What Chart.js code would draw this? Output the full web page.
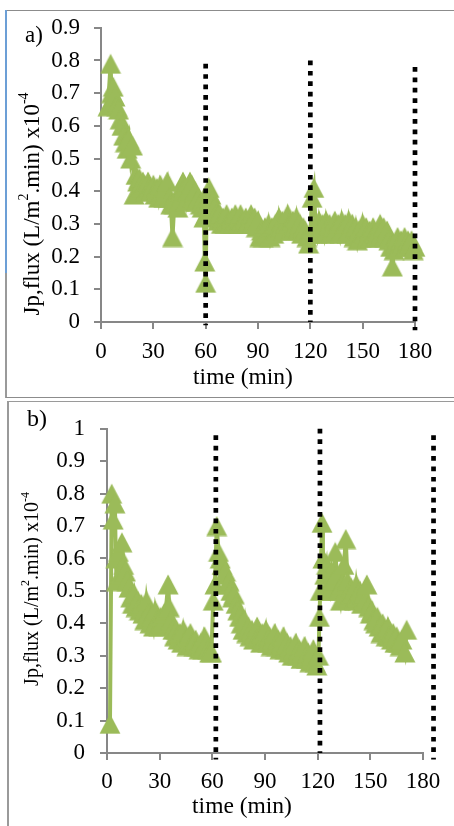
<!DOCTYPE html>
<html><head><meta charset="utf-8">
<script src="https://cdn.jsdelivr.net/npm/chart.js@4.4.1/dist/chart.umd.min.js"></script>
<style>
html,body{margin:0;padding:0;background:#fff;}
#wrap{position:relative;width:454px;height:826px;overflow:hidden;background:#fff;}
canvas{position:absolute;left:0;}
.ln{position:absolute;z-index:2;}
</style></head><body>
<div id="wrap">
<canvas id="ca" width="454" height="398" style="top:0px"></canvas>
<canvas id="cb" width="454" height="426" style="top:400px"></canvas>
<div class="ln" style="left:6px;top:10px;width:448px;height:1px;background:#8c8c8c"></div>
<div class="ln" style="left:5px;top:10px;width:2px;height:263px;background:#6c9fd6"></div>
<div class="ln" style="left:5px;top:273px;width:2px;height:125px;background:#9a9a9a"></div>
<div class="ln" style="left:6px;top:397px;width:448px;height:1px;background:#8c8c8c"></div>
<div class="ln" style="left:7px;top:401px;width:447px;height:1px;background:#9a9a9a"></div>
<div class="ln" style="left:7px;top:401px;width:2px;height:425px;background:#9a9a9a"></div>
</div>
<script>
// ---------- data ----------
const timeA = [4,5.5,6,7,8,9,10,11,12,13,14,15,16,17,18,19,20,21,22,23,24,25,26,27,28,29,30,31,32,33,34,35,36,37,38,39,40,41,42,43,44,45,46,47,48,49,50,51,52,53,54,55,56,57,58,59,59.5,60,60.5,61,62,63,64,65,66,67,68,69,70,71,72,73,74,75,76,77,78,79,80,81,82,83,84,85,86,87,88,89,90,91,92,93,94,95,96,97,98,99,100,101,102,103,104,105,106,107,108,109,110,111,112,113,114,115,116,117,118,119,120,121,122,123,124,125,126,127,128,129,130,131,132,133,134,135,136,137,138,139,140,141,142,143,144,145,146,147,148,149,150,151,152,153,154,155,156,157,158,159,160,161,162,163,164,165,166,167,168,169,170,171,172,173,174,175,176,177,178,179,180];
const fluxA = [0.66,0.79,0.70,0.72,0.69,0.66,0.65,0.62,0.60,0.57,0.55,0.53,0.56,0.50,0.54,0.39,0.45,0.43,0.44,0.41,0.43,0.42,0.40,0.43,0.41,0.40,0.42,0.39,0.41,0.38,0.42,0.40,0.38,0.41,0.43,0.38,0.36,0.26,0.36,0.38,0.35,0.37,0.40,0.43,0.41,0.37,0.40,0.43,0.42,0.38,0.40,0.37,0.38,0.36,0.35,0.32,0.185,0.12,0.33,0.36,0.41,0.39,0.37,0.35,0.33,0.31,0.33,0.30,0.32,0.30,0.33,0.31,0.30,0.32,0.30,0.33,0.31,0.30,0.33,0.31,0.30,0.32,0.30,0.31,0.33,0.30,0.32,0.29,0.31,0.26,0.28,0.26,0.29,0.27,0.30,0.26,0.29,0.27,0.30,0.28,0.32,0.29,0.31,0.28,0.30,0.33,0.30,0.28,0.31,0.29,0.32,0.28,0.30,0.27,0.29,0.28,0.26,0.24,0.27,0.38,0.41,0.30,0.27,0.31,0.28,0.30,0.27,0.31,0.28,0.30,0.27,0.29,0.31,0.28,0.30,0.27,0.31,0.28,0.30,0.27,0.31,0.28,0.30,0.26,0.29,0.25,0.28,0.26,0.30,0.27,0.29,0.26,0.28,0.26,0.29,0.27,0.26,0.28,0.30,0.27,0.29,0.26,0.28,0.25,0.23,0.17,0.22,0.24,0.26,0.23,0.25,0.24,0.26,0.23,0.25,0.24,0.25,0.22,0.23];

const timeB = [1.7,2.7,3.5,4.5,5,5.5,6.5,7.5,8.5,9.5,10.5,11.5,12.5,13.5,14.5,15.5,16.5,17.5,18.5,19.5,20.5,21.5,22.5,23.5,24.5,25.5,26.5,27.5,28.5,29.5,30.5,31.5,32.5,33.5,34.8,35.5,36.5,37.5,38.5,39.5,40.5,41.5,42.5,43.5,44.5,45.5,46.5,47.5,48.5,49.5,50.5,51.5,52.5,53.5,54.5,55.5,56.5,57.5,58.5,59.5,
  60.5,61.5,62.5,63.5,64.5,65.5,66.5,67.5,68.5,69.5,70.5,71.5,72.5,73.5,74.5,75.5,76.5,77.5,78.5,79.5,80.5,81.5,82.5,83.5,84.5,85.5,86.5,87.5,88.5,89.5,90.5,91.5,92.5,93.5,94.5,95.5,96.5,97.5,98.5,99.5,100.5,101.5,102.5,103.5,104.5,105.5,106.5,107.5,108.5,109.5,110.5,111.5,112.5,113.5,114.5,115.5,116.5,117.5,118.5,119.5,120.5,
  121,121.5,122.5,123,124,125,126,127,128,129,130,131,132,133,134,135,136,137,138,139,140,141,142,143,144,145,146,147,148,149,150,151,152,153,154,155,156,157,158,159,160,161,162,163,164,165,166,167,168,169.7,170.7];
const fluxB = [0.09,0.80,0.72,0.77,0.60,0.53,0.62,0.55,0.65,0.58,0.56,0.53,0.51,0.48,0.46,0.49,0.45,0.47,0.44,0.46,0.43,0.41,0.47,0.43,0.40,0.42,0.39,0.44,0.41,0.39,0.42,0.40,0.43,0.44,0.52,0.45,0.41,0.38,0.36,0.38,0.35,0.37,0.34,0.38,0.35,0.33,0.36,0.37,0.34,0.33,0.35,0.33,0.32,0.34,0.32,0.36,0.34,0.32,0.31,0.31,
  0.47,0.52,0.70,0.62,0.60,0.58,0.55,0.56,0.52,0.53,0.50,0.48,0.49,0.46,0.44,0.42,0.40,0.38,0.41,0.37,0.39,0.36,0.38,0.35,0.37,0.39,0.36,0.34,0.37,0.35,0.38,0.34,0.36,0.33,0.35,0.37,0.33,0.35,0.32,0.34,0.36,0.32,0.34,0.31,0.33,0.30,0.32,0.34,0.30,0.32,0.29,0.31,0.33,0.29,0.31,0.28,0.30,0.32,0.28,0.27,0.30,
  0.42,0.50,0.71,0.60,0.55,0.58,0.52,0.50,0.56,0.53,0.62,0.55,0.50,0.47,0.52,0.58,0.66,0.53,0.48,0.51,0.49,0.47,0.52,0.48,0.50,0.46,0.49,0.47,0.52,0.45,0.43,0.44,0.41,0.40,0.42,0.39,0.37,0.40,0.38,0.36,0.39,0.36,0.35,0.37,0.34,0.36,0.34,0.33,0.35,0.31,0.38];

// vertical dotted marker lines (time, top value, bottom value)
const markTimeA = [60, 120, 180];
const markTopA = [0.79, 0.80, 0.78];
const markBotA = [-0.01, 0, -0.025];
const markTimeB = [62, 121.3, 186];
const markTopB = [0.98, 1.0, 0.98];
const markBotB = [-0.02, 0, -0.02];

const xTicks = [0, 30, 60, 90, 120, 150, 180];
const yMaxA = 0.9, yMaxB = 1;
const yTitleParts = [["Jp,flux (L/m", false], ["2", true], [".min) x10", false], ["-4", true]];
const xTitle = "time (min)";
// ---------- end data ----------

const GREEN = '#9bbb59';
const FONT = "'Liberation Serif', 'Times New Roman', serif";
const AXIS = '#878787';

// isosceles triangle marker (Excel style): 21 wide, 20 tall, centred in its box
const tri = document.createElement('canvas');
tri.width = 22; tri.height = 21;
(function () {
  const c = tri.getContext('2d');
  c.fillStyle = GREEN;
  c.beginPath();
  c.moveTo(11, 0.5); c.lineTo(21.5, 20.5); c.lineTo(0.5, 20.5); c.closePath();
  c.fill();
})();

function pts(xs, ys) { return xs.map((x, i) => ({x: x, y: ys[i]})); }

function drawParts(ctx, parts, cx, cy, size, rotate) {
  ctx.save();
  ctx.translate(cx, cy);
  if (rotate) ctx.rotate(-Math.PI / 2);
  ctx.fillStyle = '#000';
  ctx.textBaseline = 'middle';
  ctx.textAlign = 'left';
  const supSize = Math.round(size * 0.62);
  let total = 0;
  const widths = parts.map(p => {
    ctx.font = (p[1] ? supSize : size) + 'px ' + FONT;
    const w = ctx.measureText(p[0]).width;
    total += w; return w;
  });
  let x = -total / 2;
  parts.forEach((p, i) => {
    ctx.font = (p[1] ? supSize : size) + 'px ' + FONT;
    ctx.fillText(p[0], x, p[1] ? -size * 0.38 : 0);
    x += widths[i];
  });
  ctx.restore();
}

function makeChart(id, cfg) {
  const markSets = cfg.markTime.map((t, i) => ({
    data: [{x: t, y: cfg.markTop[i]}, {x: t, y: cfg.markBot[i]}],
    showLine: true, borderColor: '#000', borderWidth: 4.7, borderDash: [4.7, 5.7],
    borderCapStyle: 'butt', pointRadius: 0, clip: false, order: 0
  }));
  const main = {
    data: pts(cfg.times, cfg.flux), showLine: true,
    borderColor: GREEN, borderWidth: 4, backgroundColor: GREEN,
    pointStyle: tri, pointRadius: 10,
    order: 1, clip: false
  };
  const labelPlugin = {
    id: 'lbl' + id,
    afterDraw(chart) {
      const ctx = chart.ctx;
      drawParts(ctx, yTitleParts, 33, cfg.yTitleY, cfg.yTitleSize, true);
      drawParts(ctx, [[xTitle, false]], cfg.xTitleX, cfg.xTitleY, 23.5, false);
      ctx.save();
      ctx.font = cfg.tagSize + 'px ' + FONT;
      ctx.fillStyle = '#000'; ctx.textBaseline = 'middle'; ctx.textAlign = 'left';
      ctx.fillText(cfg.tag, cfg.tagX, cfg.tagY);
      ctx.restore();
    }
  };
  return new Chart(document.getElementById(id), {
    type: 'scatter',
    data: {datasets: [...markSets, main]},
    options: {
      responsive: false, animation: false, devicePixelRatio: 1,
      layout: {padding: cfg.padding},
      plugins: {legend: {display: false}, tooltip: {enabled: false}},
      scales: {
        x: {
          type: 'linear', min: 0, max: 180,
          afterBuildTicks: s => { s.ticks = xTicks.map(v => ({value: v})); },
          ticks: {font: {family: FONT, size: 23}, color: '#000', padding: cfg.xPad, maxRotation: 0, autoSkip: false,
                  callback: v => String(v)},
          grid: {drawOnChartArea: false, drawTicks: true, tickLength: 7, color: AXIS, lineWidth: 2},
          border: {color: AXIS, width: 2},
          afterFit: s => { s.height = cfg.xH; }
        },
        y: {
          min: 0, max: cfg.yMax,
          ticks: {stepSize: 0.1, font: {family: FONT, size: 23}, color: '#000', padding: cfg.yPad,
                  callback: v => String(Number(v.toFixed(1)))},
          grid: {drawOnChartArea: false, drawTicks: true, tickLength: 7, color: AXIS, lineWidth: 2},
          border: {color: AXIS, width: 2},
          afterFit: s => { s.width = cfg.yW; }
        }
      }
    },
    plugins: [labelPlugin]
  });
}

makeChart('ca', {
  times: timeA, flux: fluxA, markTime: markTimeA, markTop: markTopA, markBot: markBotA,
  yMax: yMaxA, padding: {left: 0, right: 39, top: 23, bottom: 0}, xH: 76, yW: 101,
  xPad: 9, yPad: 14, yTitleY: 204, yTitleSize: 23, xTitleX: 243, xTitleY: 378,
  tag: 'a)', tagX: 25, tagY: 36, tagSize: 23
});
makeChart('cb', {
  times: timeB, flux: fluxB, markTime: markTimeB, markTop: markTopB, markBot: markBotB,
  yMax: yMaxB, padding: {left: 0, right: 31, top: 22, bottom: 0}, xH: 73, yW: 107,
  xPad: 8, yPad: 15, yTitleY: 189, yTitleSize: 20, xTitleX: 242, xTitleY: 407,
  tag: 'b)', tagX: 27, tagY: 20, tagSize: 24
});
</script>
</body></html>
